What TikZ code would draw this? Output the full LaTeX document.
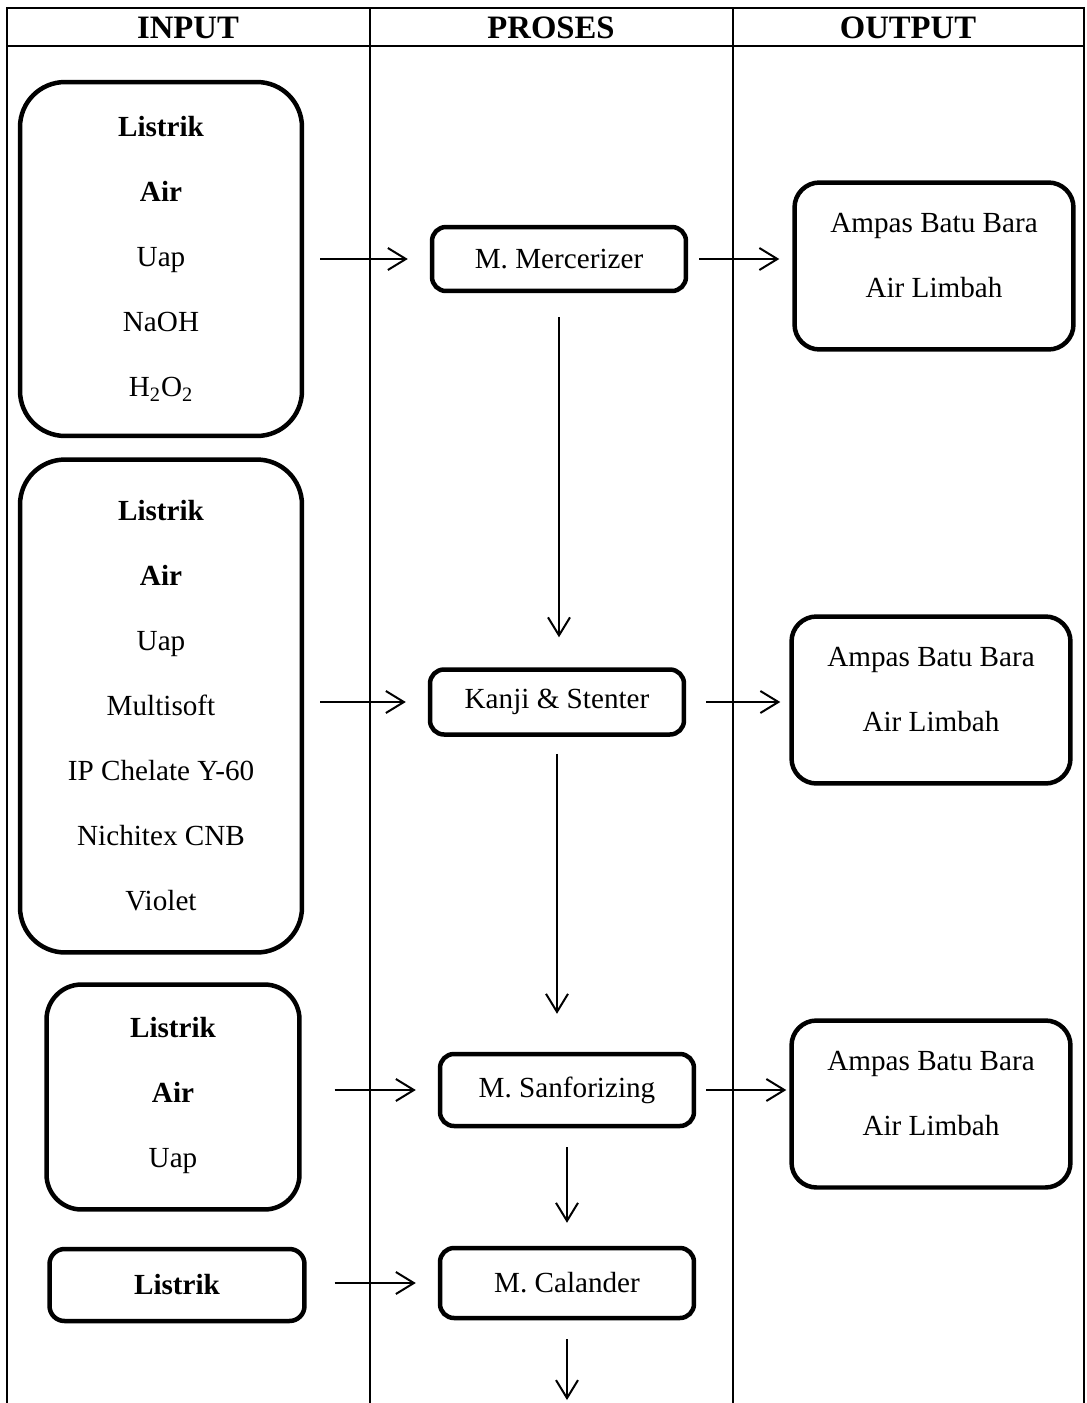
\documentclass[tikz,border=0pt]{standalone}
\usepackage{fontspec}
\setmainfont{Liberation Serif}
\usetikzlibrary{arrows.meta}
\begin{document}
\begin{tikzpicture}[x=0.02cm,y=-0.02cm,>={Straight Barb[length=0.36cm,width=0.44cm]},
    every node/.style={font=\fontsize{16.6}{37}\selectfont,align=center,inner sep=0pt},
    head/.style={font=\fontsize{18.6}{22}\selectfont\bfseries},
    inbox/.style={draw,line width=0.09cm,rounded corners=0.9cm,minimum width=5.64cm},
    probox/.style={draw,line width=0.09cm,rounded corners=0.28cm,minimum width=5.08cm},
    outbox/.style={draw,line width=0.09cm,rounded corners=0.5cm,minimum width=5.58cm,minimum height=3.34cm,text depth=0.42cm},
    flow/.style={->,line width=0.04cm}]
                  \useasboundingbox (0,0) rectangle (1087,1403);
                  \draw[line width=0.03cm] (7,1403) -- (7,8) -- (1084,8) -- (1084,1403);
                  \draw[line width=0.03cm] (7,46) -- (1084,46);
                  \draw[line width=0.03cm] (370,8) -- (370,1403);
                  \draw[line width=0.03cm] (733,8) -- (733,1403);
                  \node[head] (hin) at (188,28){INPUT};
                  \node[head] (hpro) at (551,28){PROSES};
                  \node[head] (hout) at (908,28){OUTPUT};
                  \node[inbox,minimum height=7.08cm] (in1) at (161,259)
                      {\textbf{Listrik}\\ \textbf{Air}\\ Uap\\ NaOH\\ H\textsubscript{2}O\textsubscript{2}};
                  \node[inbox,minimum height=9.86cm] (in2) at (161,706)
                      {\textbf{Listrik}\\ \textbf{Air}\\ Uap\\ Multisoft\\ IP Chelate Y-60\\ Nichitex CNB\\ Violet};
                  \node[inbox,minimum width=5.06cm,minimum height=4.5cm,rounded corners=0.7cm,text depth=0.2cm] (in3) at (173,1097)
                      {\textbf{Listrik}\\ \textbf{Air}\\ Uap};
                  \node[inbox,minimum width=5.1cm,minimum height=1.44cm,rounded corners=0.3cm] (in4) at (177,1285)
                      {\textbf{Listrik}};
                  \node[probox,minimum height=1.28cm] (merc) at (559,259){M. Mercerizer};
                  \node[probox,minimum height=1.3cm] (kanji) at (557,702){Kanji \& Stenter};
                  \node[probox,minimum height=1.44cm] (sanf) at (567,1090){M. Sanforizing};
                  \node[probox,minimum height=1.4cm] (cal) at (567,1283){M. Calander};
                  \node[outbox] (out1) at (934,266){Ampas Batu Bara\\ Air Limbah};
                  \node[outbox] (out2) at (931,700){Ampas Batu Bara\\ Air Limbah};
                  \node[outbox] (out3) at (931,1104){Ampas Batu Bara\\ Air Limbah};
                  \coordinate (end) at (567,1400);
                  \draw[flow,shorten <=0.32cm,shorten >=0.44cm](in1.east |- merc)--(merc.west);
                  \draw[flow,shorten <=0.22cm,shorten >=0.26cm](merc.east)--(merc.east -| out1.west);
                  \draw[flow,shorten <=0.48cm,shorten >=0.6cm](merc.south)--(merc.south |- kanji.north);
                  \draw[flow,shorten <=0.32cm,shorten >=0.44cm](in2.east |- kanji)--(kanji.west);
                  \draw[flow,shorten <=0.4cm,shorten >=0.18cm](kanji.east)--(kanji.east -| out2.west);
                  \draw[flow,shorten <=0.34cm,shorten >=0.76cm](kanji.south)--(kanji.south |- sanf.north);
                  \draw[flow,shorten <=0.66cm,shorten >=0.44cm](in3.east |- sanf)--(sanf.west);
                  \draw[flow,shorten <=0.2cm,shorten >=0.06cm](sanf.east)--(sanf.east -| out3.west);
                  \draw[flow,shorten <=0.38cm,shorten >=0.46cm](sanf.south)--(cal.north);
                  \draw[flow,shorten <=0.56cm,shorten >=0.44cm](in4.east |- cal)--(cal.west);
                  \draw[flow,shorten <=0.38cm](cal.south)--(end);
              \end{tikzpicture}
\end{document}
